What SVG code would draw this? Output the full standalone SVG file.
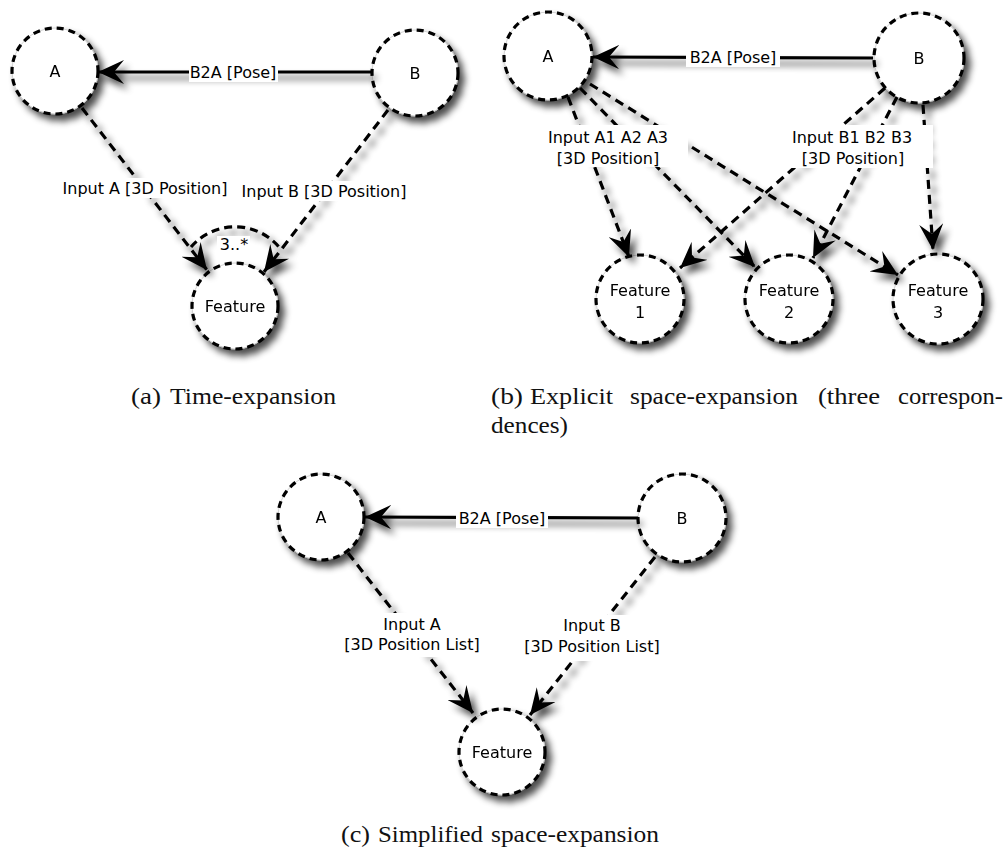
<svg xmlns="http://www.w3.org/2000/svg" width="1006" height="852" viewBox="0 0 1006 852">
  <style>
    .node circle.base { fill: #fff; stroke: #c8c8c8; stroke-width: 0.8; }
    .node circle.rim { fill: none; stroke: #000; stroke-width: 3.2; stroke-dasharray: 7 5; }
    .lbl { font-family: "DejaVu Sans", sans-serif; font-size: 16px; fill: #000; text-anchor: middle; }
    .edge { fill: none; stroke: #000; stroke-width: 3.2; stroke-dasharray: 9 6; marker-end: url(#head); }
    .solid { fill: none; stroke: #000; stroke-width: 3.2; marker-end: url(#head); }
    .bg { fill: #fff; }
    .cap { font-family: "Liberation Serif", "Times New Roman", serif; font-size: 24px; fill: #111; }
  </style>
  <defs>
    <filter id="shadow" filterUnits="userSpaceOnUse" x="0" y="0" width="1006" height="852">
      <feGaussianBlur in="SourceAlpha" stdDeviation="3.5"/>
      <feOffset dx="5" dy="6" result="off"/>
      <feComponentTransfer><feFuncA type="linear" slope="0.7"/></feComponentTransfer>
      <feMerge><feMergeNode/><feMergeNode in="SourceGraphic"/></feMerge>
    </filter>
    <marker id="head" markerUnits="userSpaceOnUse" viewBox="0 0 26 24" refX="26" refY="12" markerWidth="26" markerHeight="24" orient="auto">
      <path d="M26,12 L0,0 L10,12 L0,24 Z" fill="#000" stroke="none"/>
    </marker>
  </defs>
  <rect width="1006" height="852" fill="#fff"/>

  <!-- (a) time-expansion -->
  <g filter="url(#shadow)">
    <g id="a-A" class="node"><circle class="base" cx="55" cy="71" r="43"/><circle class="rim" cx="55" cy="71" r="43"/><text class="lbl" x="55" y="77">A</text></g>
    <g id="a-B" class="node"><circle class="base" cx="415" cy="73" r="43"/><circle class="rim" cx="415" cy="73" r="43"/><text class="lbl" x="415" y="79">B</text></g>
    <g id="a-Feature" class="node"><circle class="base" cx="235" cy="306" r="43"/><circle class="rim" cx="235" cy="306" r="43"/><text class="lbl" x="235" y="312">Feature</text></g>
  </g>
  <g id="a-connectors" filter="url(#shadow)">
    <path class="solid" d="M372,72 L98,72"/>
    <path class="edge" d="M82,108 L207,270"/>
    <path class="edge" d="M388,110 L264,272"/>
    <path d="M191,247 A58,58 0 0 1 279,247" fill="none" stroke="#000" stroke-width="3.2" stroke-dasharray="8 5"/>
  </g>
  <g id="a-labels">
    <rect class="bg" x="189" y="62" width="89" height="20"/><text class="lbl" x="233" y="78">B2A [Pose]</text>
    <rect class="bg" x="61" y="178" width="168" height="20"/><text class="lbl" x="145" y="194">Input A [3D Position]</text>
    <rect class="bg" x="240" y="181" width="168" height="20"/><text class="lbl" x="324" y="197">Input B [3D Position]</text>
    <rect class="bg" x="217" y="236" width="33" height="16"/><text class="lbl" x="234" y="250">3..*</text>
  </g>

  <!-- (b) explicit space-expansion -->
  <g filter="url(#shadow)">
    <g id="b-A" class="node"><circle class="base" cx="548" cy="56" r="44"/><circle class="rim" cx="548" cy="56" r="44"/><text class="lbl" x="548" y="62">A</text></g>
    <g id="b-B" class="node"><circle class="base" cx="919" cy="58" r="45"/><circle class="rim" cx="919" cy="58" r="45"/><text class="lbl" x="919" y="64">B</text></g>
    <g id="b-F1" class="node"><circle class="base" cx="640" cy="299" r="44"/><circle class="rim" cx="640" cy="299" r="44"/><text class="lbl" x="640" y="296">Feature</text><text class="lbl" x="640" y="318">1</text></g>
    <g id="b-F2" class="node"><circle class="base" cx="789" cy="299" r="44"/><circle class="rim" cx="789" cy="299" r="44"/><text class="lbl" x="789" y="296">Feature</text><text class="lbl" x="789" y="318">2</text></g>
    <g id="b-F3" class="node"><circle class="base" cx="938" cy="299" r="45"/><circle class="rim" cx="938" cy="299" r="45"/><text class="lbl" x="938" y="296">Feature</text><text class="lbl" x="938" y="318">3</text></g>
  </g>
  <g id="b-connectors" filter="url(#shadow)">
    <path class="solid" d="M873,58 L593,57"/>
    <path class="edge" d="M568,97 L629,257"/>
    <path class="edge" d="M580,88 L755,267"/>
    <path class="edge" d="M590,84 L898,275"/>
    <path class="edge" d="M885,88 L680,268"/>
    <path class="edge" d="M897,97 L813,258"/>
    <path class="edge" d="M923,105 L933,250"/>
  </g>
  <g id="b-labels">
    <rect class="bg" x="686" y="47" width="94" height="20"/><text class="lbl" x="733" y="63">B2A [Pose]</text>
    <rect class="bg" x="545" y="125" width="143" height="42"/>
    <text class="lbl" x="608" y="143">Input A1 A2 A3</text><text class="lbl" x="608" y="164">[3D Position]</text>
    <rect class="bg" x="788" y="125" width="145" height="43"/>
    <text class="lbl" x="852" y="143">Input B1 B2 B3</text><text class="lbl" x="853" y="164">[3D Position]</text>
  </g>

  <!-- (c) simplified space-expansion -->
  <g filter="url(#shadow)">
    <g id="c-A" class="node"><circle class="base" cx="321" cy="517" r="43"/><circle class="rim" cx="321" cy="517" r="43"/><text class="lbl" x="321" y="523">A</text></g>
    <g id="c-B" class="node"><circle class="base" cx="682" cy="518" r="44"/><circle class="rim" cx="682" cy="518" r="44"/><text class="lbl" x="682" y="524">B</text></g>
    <g id="c-Feature" class="node"><circle class="base" cx="502" cy="752" r="43"/><circle class="rim" cx="502" cy="752" r="43"/><text class="lbl" x="502" y="758">Feature</text></g>
  </g>
  <g id="c-connectors" filter="url(#shadow)">
    <path class="solid" d="M638,518 L365,517"/>
    <path class="edge" d="M348,553 L473,713"/>
    <path class="edge" d="M655,557 L530,715"/>
  </g>
  <g id="c-labels">
    <rect class="bg" x="456" y="508" width="92" height="20"/><text class="lbl" x="502" y="524">B2A [Pose]</text>
    <rect class="bg" x="342" y="613" width="140" height="44"/>
    <text class="lbl" x="412" y="630">Input A</text><text class="lbl" x="412" y="650">[3D Position List]</text>
    <rect class="bg" x="523" y="615" width="139" height="46"/>
    <text class="lbl" x="592" y="631">Input B</text><text class="lbl" x="592" y="652">[3D Position List]</text>
  </g>

  <!-- captions, word by word so the justified line keeps its spacing -->
  <g id="captions" class="cap">
    <text x="131" y="404" textLength="30" lengthAdjust="spacingAndGlyphs">(a)</text>
    <text x="170" y="404" textLength="166" lengthAdjust="spacingAndGlyphs">Time-expansion</text>
    <text x="491" y="404" textLength="32" lengthAdjust="spacingAndGlyphs">(b)</text>
    <text x="530" y="404" textLength="83" lengthAdjust="spacingAndGlyphs">Explicit</text>
    <text x="630" y="404" textLength="168" lengthAdjust="spacingAndGlyphs">space-expansion</text>
    <text x="818" y="404" textLength="62" lengthAdjust="spacingAndGlyphs">(three</text>
    <text x="898" y="404" textLength="105" lengthAdjust="spacingAndGlyphs">correspon-</text>
    <text x="491" y="433" textLength="77" lengthAdjust="spacingAndGlyphs">dences)</text>
    <text x="341" y="842" textLength="29" lengthAdjust="spacingAndGlyphs">(c)</text>
    <text x="378" y="842" textLength="105" lengthAdjust="spacingAndGlyphs">Simplified</text>
    <text x="491" y="842" textLength="168" lengthAdjust="spacingAndGlyphs">space-expansion</text>
  </g>
</svg>
